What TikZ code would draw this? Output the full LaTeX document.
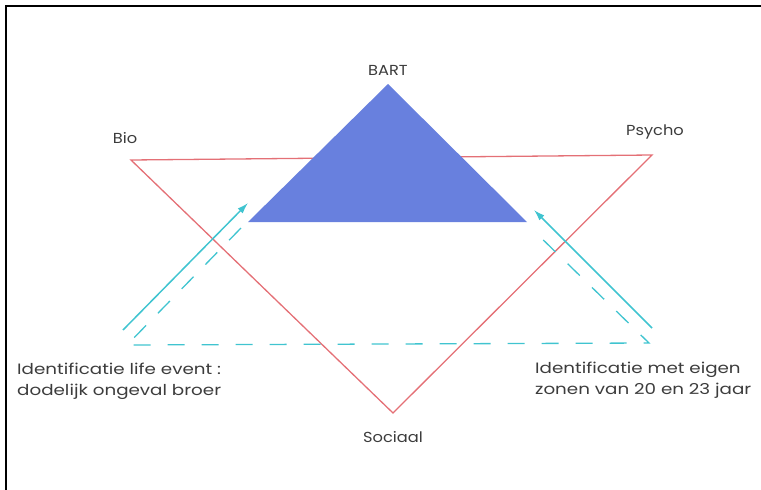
\documentclass[tikz,border=0pt]{standalone}
\usepackage{fontspec}
\setmainfont[FakeStretch=1.12]{Poppins}
\newfontfamily\idfont[FakeStretch=1.22]{Poppins}
\definecolor{pyrblue}{RGB}{104,128,222}
\definecolor{bpsred}{RGB}{228,112,118}
\definecolor{idcyan}{RGB}{64,196,208}
\definecolor{labgray}{RGB}{60,60,60}
\usetikzlibrary{arrows.meta,positioning}
\begin{document}
\begin{tikzpicture}[
  x=1pt,y=-1pt,
  font=\fontsize{14.5}{20}\selectfont,
  lbl/.style={text=labgray,inner sep=0pt},
  idlbl/.style={lbl,align=left,anchor=north west,font=\idfont\fontsize{15}{20.5}\selectfont},
  bpsline/.style={draw=bpsred,line width=1.3pt,line join=miter},
  idarrow/.style={-{Latex[length=11pt,width=7pt]},idcyan,line width=1.5pt},
  iddash/.style={idcyan,line width=1.3pt,dash pattern=on 17pt off 17pt}
]
\useasboundingbox (0,0) rectangle (761,490);
\draw[line width=2pt] (6,490) -- (6,6) -- (761,6);
% bio-psycho-sociaal
\coordinate (bio) at (131,160);
\coordinate (psycho) at (652,155);
\coordinate (sociaal) at (393,413);
\draw[bpsline] (bio) -- (psycho) -- (sociaal) -- cycle;
% BART
\coordinate (top) at (388,84);
\coordinate (bl) at (248,222);
\coordinate (br) at (527,222);
\fill[pyrblue] (top) -- (bl) -- (br) -- cycle;
\node[lbl] (bartlbl) at (388,70) {BART};
\node[lbl] (biolbl) at (125,138) {Bio};
\node[lbl] (psycholbl) at (655,132) {Psycho};
\node[lbl] (sociaallbl) at (393,437) {Sociaal};
% identificaties
\coordinate (dl) at (127,345);
\coordinate (dr) at (649,343);
\coordinate (dlt) at (241,228);
\coordinate (drt) at (532,229);
\draw[iddash] (dlt) -- (dl) -- (dr) -- (drt);
\coordinate (al0) at (123,330);
\coordinate (al1) at (248,203);
\coordinate (ar0) at (652,328);
\coordinate (ar1) at (534,210);
\draw[idarrow] (al0) -- (al1);
\draw[idarrow] (ar0) -- (ar1);
\node[idlbl] (lifelbl) at (17,363) {Identificatie life event :\\dodelijk ongeval broer};
\node[idlbl] (zonenlbl) at (535,362) {Identificatie met eigen\\zonen van 20 en 23 jaar};
\end{tikzpicture}
\end{document}
